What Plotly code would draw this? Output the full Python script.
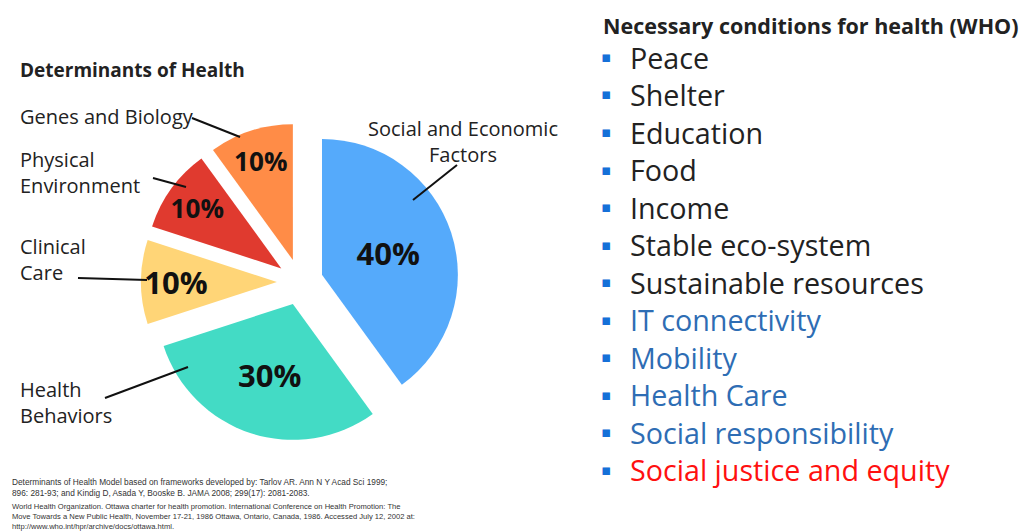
import plotly.graph_objects as go

W, H = 1021, 531

# pie data (clockwise from 12 o'clock)
categories = ['Social and Economic Factors', 'Health Behaviors', 'Clinical Care',
              'Physical Environment', 'Genes and Biology']
values = [40, 30, 10, 10, 10]
slice_colors = ['#55AAFB', '#43DBC5', '#FFD577', '#E03A2F', '#FF8C47']

# WHO list on the right
conditions = ['Peace', 'Shelter', 'Education', 'Food', 'Income', 'Stable eco-system',
              'Sustainable resources', 'IT connectivity', 'Mobility', 'Health Care',
              'Social responsibility', 'Social justice and equity']
condition_colors = ['#222222'] * 7 + ['#2E6DB4'] * 4 + ['#FF1010']

FONT = 'Open Sans'


def px_x(x):
    return x / W


def px_y(y):
    return 1 - y / H


fig = go.Figure()

fig.add_trace(go.Pie(
    labels=categories,
    values=values,
    sort=False,
    direction='clockwise',
    rotation=0,
    pull=[0.17] * len(values),
    marker=dict(colors=slice_colors, line=dict(width=0)),
    textinfo='percent',
    texttemplate='<b>%{percent}</b>',
    textposition='inside',
    insidetextorientation='horizontal',
    textfont=dict(family=FONT, size=31, color='#111111'),
    hoverinfo='label+percent',
    showlegend=False,
    domain=dict(x=[px_x(141), px_x(459)], y=[px_y(441), px_y(123)]),
))

annotations = []

# titles
annotations.append(dict(x=px_x(18), y=px_y(70), text='<b>Determinants of Health</b>',
                        xanchor='left', yanchor='middle', showarrow=False,
                        font=dict(family=FONT, size=19, color='#222222')))
annotations.append(dict(x=px_x(601), y=px_y(25), text='<b>Necessary conditions for health (WHO)</b>',
                        xanchor='left', yanchor='middle', showarrow=False,
                        font=dict(family=FONT, size=21.5, color='#222222')))

# slice labels
slice_labels = [
    (463, 141, 'Social and Economic<br>Factors', 'center'),
    (18, 117, 'Genes and Biology', 'left'),
    (18, 172, 'Physical<br>Environment', 'left'),
    (18, 259, 'Clinical<br>Care', 'left'),
    (18, 402, 'Health<br>Behaviors', 'left'),
]
for x, y, t, al in slice_labels:
    annotations.append(dict(x=px_x(x), y=px_y(y), text=t, xanchor=al if al == 'left' else 'center',
                            yanchor='middle', align=al, showarrow=False,
                            font=dict(family=FONT, size=20, color='#222222')))

# leader lines
leader_lines = [
    (413, 200, 457, 165),
    (192, 118, 240, 137),
    (153, 178, 186, 187),
    (78, 278, 147, 280),
    (105, 398, 188, 367),
]
shapes = []
for x0, y0, x1, y1 in leader_lines:
    shapes.append(dict(type='line', xref='paper', yref='paper',
                       x0=px_x(x0), y0=px_y(y0), x1=px_x(x1), y1=px_y(y1),
                       line=dict(color='#111111', width=2)))

# bullet list
for i, (item, col) in enumerate(zip(conditions, condition_colors)):
    yy = 57 + 37.5 * i
    annotations.append(dict(x=px_x(599), y=px_y(yy), text='▪', xanchor='left', yanchor='middle',
                            showarrow=False, font=dict(family='DejaVu Sans', size=15, color='#1570D8')))
    annotations.append(dict(x=px_x(628), y=px_y(yy), text=item, xanchor='left', yanchor='middle',
                            showarrow=False, font=dict(family=FONT, size=28.7, color=col)))

# references
ref1 = ('Determinants of Health Model based on frameworks developed by: Tarlov AR. Ann N Y Acad Sci 1999;<br>'
        '896: 281-93; and Kindig D, Asada Y, Booske B. JAMA 2008; 299(17): 2081-2083.')
ref2 = ('World Health Organization. Ottawa charter for health promotion. International Conference on Health Promotion: The<br>'
        'Move Towards a New Public Health, November 17-21, 1986 Ottawa, Ontario, Canada, 1986. Accessed July 12, 2002 at:<br>'
        'http://www.who.int/hpr/archive/docs/ottawa.html.')
annotations.append(dict(x=px_x(10), y=px_y(487), text=ref1, xanchor='left', yanchor='middle', align='left',
                        showarrow=False, font=dict(family='Liberation Sans', size=8.3, color='#333333')))
annotations.append(dict(x=px_x(10), y=px_y(516), text=ref2, xanchor='left', yanchor='middle', align='left',
                        showarrow=False, font=dict(family='Liberation Sans', size=7.6, color='#333333')))

fig.update_layout(
    width=W, height=H,
    margin=dict(l=0, r=0, t=0, b=0),
    paper_bgcolor='white',
    plot_bgcolor='white',
    annotations=annotations,
    shapes=shapes,
)

# page body has an 8px default margin; drop it so the figure fills the window
fig.write_html('out.html', config={'displayModeBar': False},
               post_script="document.body.style.margin='0';")
